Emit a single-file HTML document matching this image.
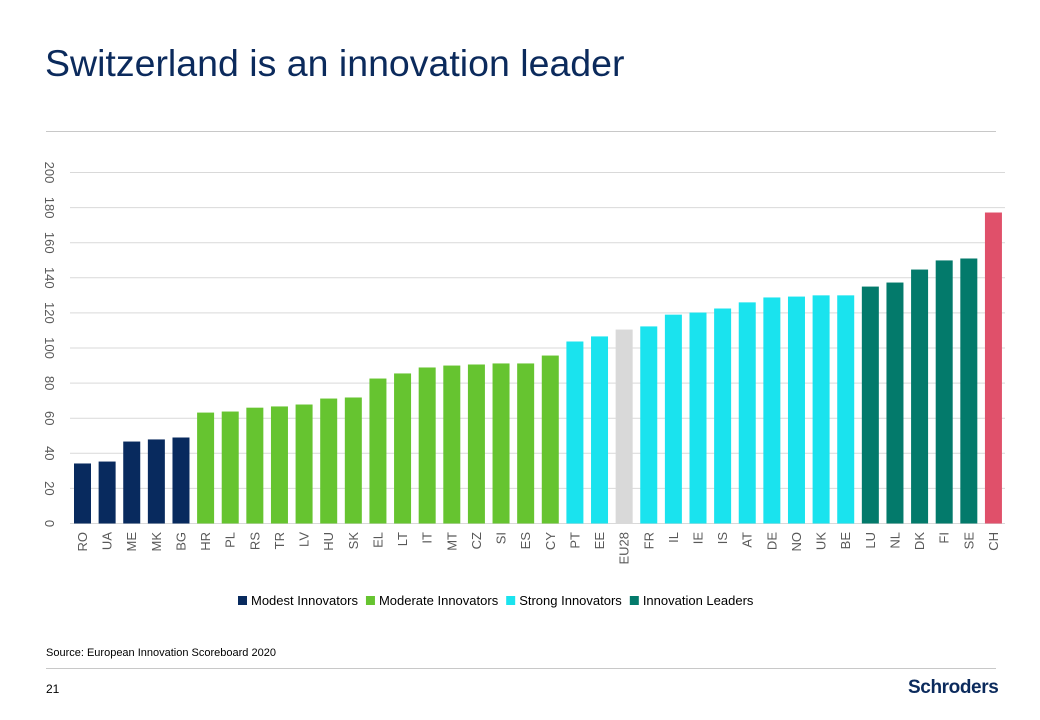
<!DOCTYPE html>
<html><head><meta charset="utf-8"><style>
body{margin:0;width:1040px;height:720px;background:#fff;font-family:"Liberation Sans",sans-serif;position:relative;overflow:hidden}
.abs{position:absolute}
</style></head><body>
<div class="abs" style="left:45px;top:42px;font-size:37.5px;color:#0b2a5c;">Switzerland is an innovation leader</div>
<div class="abs" style="left:46px;top:131px;width:950px;height:1px;background:#c8c8c8"></div>
<svg class="abs" style="left:0;top:0" width="1040" height="720" id="chart"></svg>
<div class="abs" style="left:46px;top:647px;font-size:11px;color:#000">Source: European Innovation Scoreboard 2020</div>
<div class="abs" style="left:46px;top:668px;width:950px;height:1px;background:#c8c8c8"></div>
<div class="abs" style="left:46px;top:682px;font-size:12px;color:#000">21</div>
<div class="abs" style="left:908px;top:677px;font-size:19px;font-weight:bold;color:#0b2a5c;letter-spacing:-0.4px">Schroders</div>
<script>
const categories=["RO","UA","ME","MK","BG","HR","PL","RS","TR","LV","HU","SK","EL","LT","IT","MT","CZ","SI","ES","CY","PT","EE","EU28","FR","IL","IE","IS","AT","DE","NO","UK","BE","LU","NL","DK","FI","SE","CH"];
const values=[34.2,35.3,46.7,47.9,49,63.2,63.8,66,66.7,67.8,71.2,71.8,82.6,85.5,88.9,90,90.6,91.2,91.2,95.7,103.7,106.6,110.5,112.3,119,120.2,122.5,126,128.8,129.3,130,130,135,137.3,144.7,149.9,151,177.2];
const groups=["modest","modest","modest","modest","modest","moderate","moderate","moderate","moderate","moderate","moderate","moderate","moderate","moderate","moderate","moderate","moderate","moderate","moderate","moderate","strong","strong","eu","strong","strong","strong","strong","strong","strong","strong","strong","strong","leader","leader","leader","leader","leader","ch"];
const yTicks=[0,20,40,60,80,100,120,140,160,180,200];
const legendLabels=["Modest Innovators","Moderate Innovators","Strong Innovators","Innovation Leaders"];
const legendKeys=["modest","moderate","strong","leader"];
const colors={modest:"#082a5e",moderate:"#66c430",strong:"#1ae3ee",leader:"#037a6b",eu:"#d9d9d9",ch:"#e0506a"};
const NS="http://www.w3.org/2000/svg";
const svg=document.getElementById('chart');
const y0=523.5,yScale=(523.5-172.5)/200;
const y=v=>y0-v*yScale;
const x0=82.5,step=24.62,bw=17;
const x=i=>x0+i*step;
function mk(t,a){const e=document.createElementNS(NS,t);for(const k in a)e.setAttribute(k,a[k]);svg.appendChild(e);return e;}
yTicks.forEach(t=>{
  const g=mk('line',{x1:70,x2:1005,y1:y(t),y2:y(t),stroke:'#d9d9d9','stroke-width':1});
  
  
  const l=mk('text',{x:0,y:0,'font-size':13,fill:'#595959','text-anchor':'middle',transform:`translate(45,${y(t)}) rotate(90)`});
  l.textContent=t;
  
  
});
categories.forEach((c,i)=>{
  const r=mk('rect',{x:x(i)-bw/2,y:y(values[i]),width:bw,height:y0-y(values[i]),fill:colors[groups[i]]});
  
  
  const l=mk('text',{x:0,y:0,'font-size':13,fill:'#595959','text-anchor':'end',transform:`translate(${x(i)+4.5},532) rotate(-90)`});
  l.textContent=c;
  
  
});
let lx=238;
legendLabels.forEach((lab,i)=>{
  const r=mk('rect',{x:lx,y:596,width:9,height:9,fill:colors[legendKeys[i]]});
  
  
  const t=mk('text',{x:lx+13,y:605,'font-size':13,fill:'#000'});
  t.textContent=lab;
  
  
  lx+=13+t.getComputedTextLength()+8;
});
</script>
</body></html>
